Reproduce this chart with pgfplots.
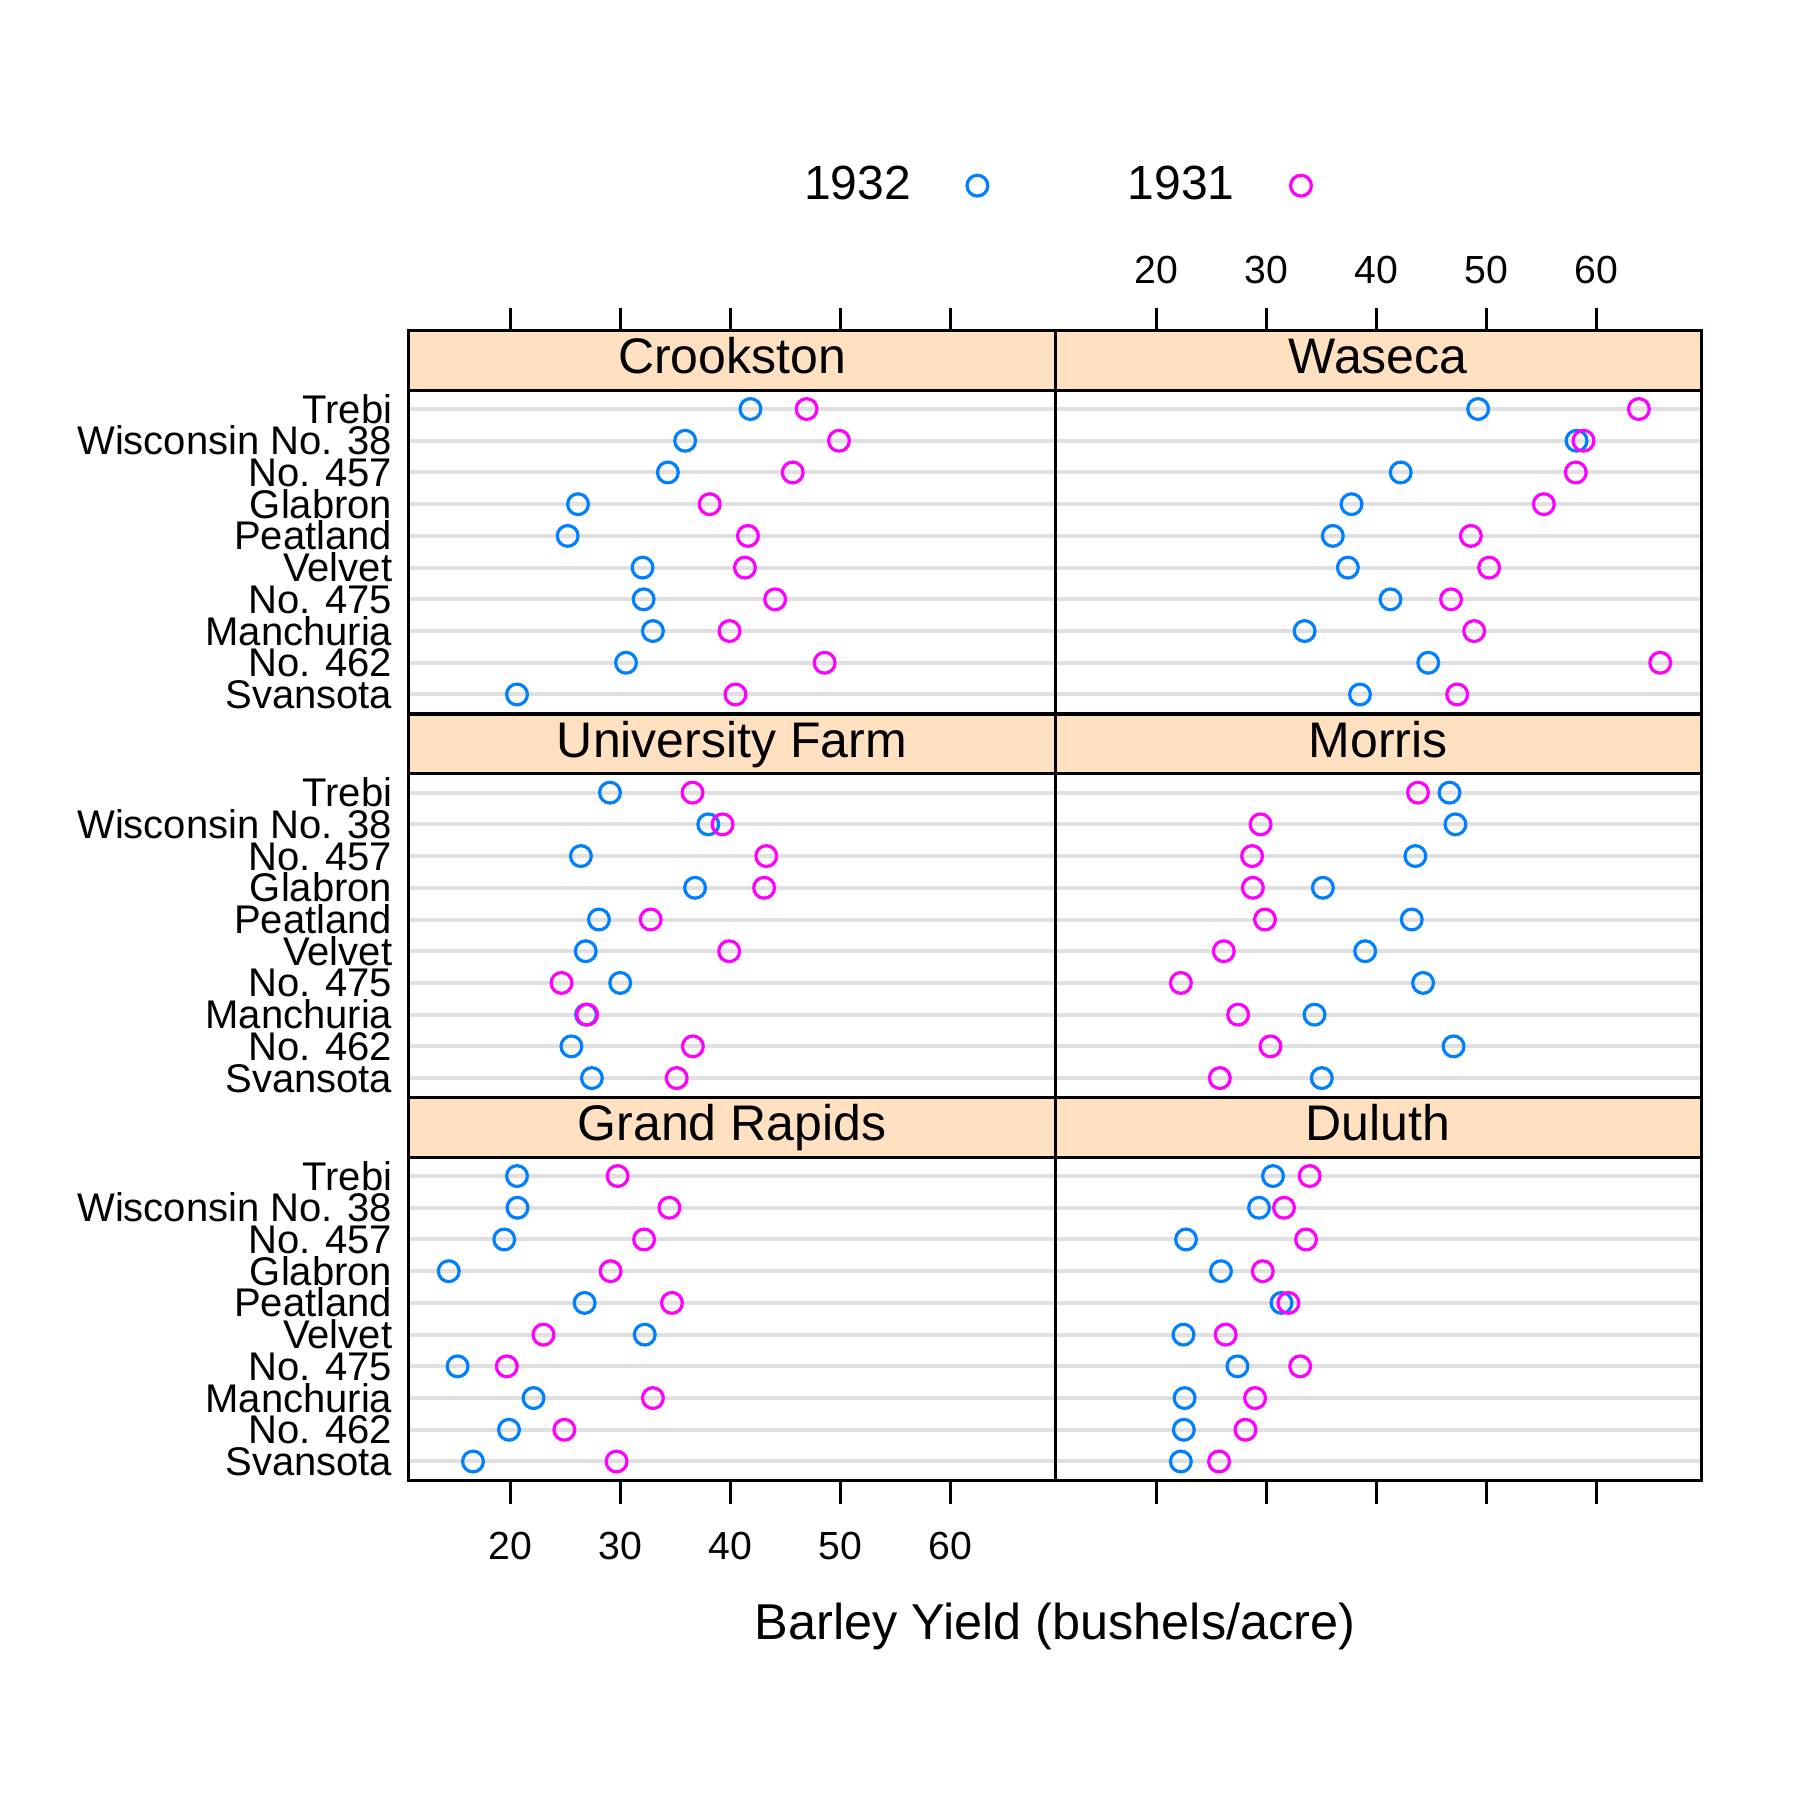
\documentclass[border=0pt]{standalone}
\usepackage{pgfplots}
\pgfplotsset{compat=1.18}
\usepackage{fontspec}
\setmainfont{Liberation Sans}
\definecolor{cblue}{HTML}{0080FF}
\definecolor{cmag}{HTML}{FF00FF}
\definecolor{strip}{HTML}{FFE0C0}
\definecolor{gridc}{HTML}{E0E0E0}
\pgfplotsset{
 panel/.style={
  scale only axis, width=161.575pt, height=95.85pt, anchor=south west,
  xmin=10.8, xmax=69.5, ymin=0.385, ymax=12.474,
  axis line style={line width=0.75pt},
  xtick={20,30,40,50,60}, ytick={1,...,10},
  tick align=outside, major tick length=5.75pt,
  xtick style={line width=0.75pt, black},
  ytick style={draw=none},
  ymajorgrids, grid style={gridc, line width=1pt},
  xticklabels={}, yticklabels={},
  xtick pos=lower,
  /pgf/number format/assume math mode=true,
  tick label style={font=\fontsize{9.8}{10}\selectfont},
  yticklabel style={font=\fontsize{10}{10}\selectfont, xshift=2.8pt, inner sep=1pt, text height=7pt, text depth=0pt},
  clip=false,
 },
 leftcol/.style={yticklabels={Svansota,No. 462,Manchuria,No. 475,Velvet,Peatland,Glabron,No. 457,Wisconsin No. 38,Trebi}},
 p32/.style={only marks, mark=o, mark size=2.6pt, mark options={line width=0.8pt}, cblue},
 p31/.style={only marks, mark=o, mark size=2.6pt, mark options={line width=0.8pt}, cmag},
}
\newcommand{\strip}[1]{%
 \filldraw[fill=strip, draw=black, line width=0.75pt] (axis cs:10.8,10.59) rectangle (axis cs:69.5,12.474);
 \node[font=\fontsize{12.5}{14}\selectfont, text height=9pt, text depth=2.5pt, inner sep=0pt] at (axis cs:40.15,11.532) {#1};}
\begin{document}
\begin{tikzpicture}
\path (0,0) rectangle (450pt,450pt);
% Crookston
\begin{axis}[panel, leftcol, at={(102.2pt,271.5pt)}, xtick pos=upper,
  legend columns=2, legend plot pos=right,
  legend style={draw=none, fill=none, at={(0.998,1.378)}, anchor=center,
   font=\fontsize{12}{14}\selectfont, column sep=33pt,
   /tikz/every odd column/.append style={column sep=12pt}}]
\addplot[p32] coordinates {(20.63,1)(30.53,2)(32.97,3)(32.13,4)(32.03,5)(25.23,6)(26.17,7)(34.33,8)(35.90,9)(41.83,10)};
\addplot[p31] coordinates {(40.47,1)(48.57,2)(39.93,3)(44.07,4)(41.33,5)(41.60,6)(38.13,7)(45.67,8)(49.87,9)(46.93,10)};
\legend{1932,1931}
\strip{Crookston}
\end{axis}
% Waseca
\begin{axis}[panel, at={(263.75pt,271.5pt)}, xtick pos=upper, xticklabels={20,30,40,50,60}, xticklabel style={yshift=2.3pt}]
\addplot[p32] coordinates {(38.50,1)(44.70,2)(33.47,3)(41.27,4)(37.40,5)(36.03,6)(37.73,7)(42.20,8)(58.17,9)(49.23,10)};
\addplot[p31] coordinates {(47.33,1)(65.77,2)(48.87,3)(46.77,4)(50.23,5)(48.57,6)(55.20,7)(58.10,8)(58.80,9)(63.83,10)};
\strip{Waseca}
\end{axis}
% University Farm
\begin{axis}[panel, leftcol, at={(102.2pt,175.6pt)}, xtick=\empty]
\addplot[p32] coordinates {(27.43,1)(25.57,2)(26.90,3)(30.00,4)(26.87,5)(28.07,6)(36.80,7)(26.43,8)(38.00,9)(29.07,10)};
\addplot[p31] coordinates {(35.13,1)(36.60,2)(27.00,3)(24.67,4)(39.90,5)(32.77,6)(43.07,7)(43.27,8)(39.30,9)(36.57,10)};
\strip{University Farm}
\end{axis}
% Morris
\begin{axis}[panel, at={(263.75pt,175.6pt)}, xtick=\empty]
\addplot[p32] coordinates {(35.03,1)(47.00,2)(34.37,3)(44.23,4)(38.97,5)(43.20,6)(35.13,7)(43.53,8)(47.17,9)(46.63,10)};
\addplot[p31] coordinates {(25.77,1)(30.37,2)(27.43,3)(22.23,4)(26.13,5)(29.87,6)(28.77,7)(28.70,8)(29.47,9)(43.77,10)};
\strip{Morris}
\end{axis}
% Grand Rapids
\begin{axis}[panel, leftcol, at={(102.2pt,79.75pt)}, xticklabels={20,30,40,50,60}, xticklabel style={yshift=-3.5pt}]
\addplot[p32] coordinates {(16.63,1)(19.90,2)(22.13,3)(15.23,4)(32.23,5)(26.77,6)(14.43,7)(19.47,8)(20.67,9)(20.63,10)};
\addplot[p31] coordinates {(29.67,1)(24.93,2)(32.97,3)(19.70,4)(23.03,5)(34.70,6)(29.13,7)(32.17,8)(34.47,9)(29.77,10)};
\strip{Grand Rapids}
\end{axis}
% Duluth
\begin{axis}[panel, at={(263.75pt,79.75pt)}]
\addplot[p32] coordinates {(22.23,1)(22.50,2)(22.57,3)(27.37,4)(22.47,5)(31.37,6)(25.87,7)(22.70,8)(29.33,9)(30.60,10)};
\addplot[p31] coordinates {(25.70,1)(28.10,2)(28.97,3)(33.07,4)(26.30,5)(32.00,6)(29.67,7)(33.60,8)(31.60,9)(33.93,10)};
\strip{Duluth}
\end{axis}
\node[font=\fontsize{12.6}{14}\selectfont] at (263.75pt,43.5pt) {Barley Yield (bushels/acre)};
\end{tikzpicture}
\end{document}
